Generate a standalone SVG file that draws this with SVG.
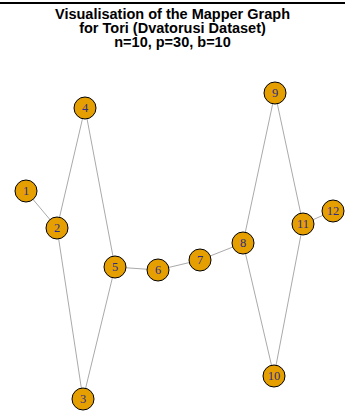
<svg xmlns="http://www.w3.org/2000/svg" width="345" height="413" viewBox="0 0 345 413">
<style>
.title{font-family:"Liberation Sans",Arial,sans-serif;font-weight:bold;font-size:14.5px;fill:#000;text-anchor:middle}
.edge{stroke:#aaaaaa;stroke-width:1;fill:none}
.node circle{fill:#E69F00;stroke:#000;stroke-width:1}
.node text{font-family:"Liberation Serif","Times New Roman",serif;font-size:12.5px;fill:#2B2B8A;text-anchor:middle;dominant-baseline:central}
</style>
<rect width="345" height="413" fill="#fff"/>
<line x1="0" y1="3" x2="345" y2="3" stroke="#000" stroke-width="2"/>
<text class="title" x="172.5" y="19">Visualisation of the Mapper Graph</text>
<text class="title" x="172.5" y="33">for Tori (Dvatorusi Dataset)</text>
<text class="title" x="172.5" y="47">n=10, p=30, b=10</text>
<g id="edges">
<line class="edge" x1="26" y1="191" x2="57" y2="228"/>
<line class="edge" x1="57" y1="228" x2="85" y2="108"/>
<line class="edge" x1="85" y1="108" x2="115" y2="267"/>
<line class="edge" x1="57" y1="228" x2="83" y2="399"/>
<line class="edge" x1="83" y1="399" x2="115" y2="267"/>
<line class="edge" x1="115" y1="267" x2="158" y2="270"/>
<line class="edge" x1="158" y1="270" x2="200" y2="260"/>
<line class="edge" x1="200" y1="260" x2="243" y2="243"/>
<line class="edge" x1="243" y1="243" x2="275" y2="93"/>
<line class="edge" x1="243" y1="243" x2="274" y2="376"/>
<line class="edge" x1="275" y1="93" x2="303" y2="224"/>
<line class="edge" x1="274" y1="376" x2="303" y2="224"/>
<line class="edge" x1="303" y1="224" x2="333" y2="211"/>
</g>
<g id="n1" class="node"><circle cx="26" cy="191" r="11"/><text x="26" y="191">1</text></g>
<g id="n2" class="node"><circle cx="57" cy="228" r="11"/><text x="57" y="228">2</text></g>
<g id="n3" class="node"><circle cx="83" cy="399" r="11"/><text x="83" y="399">3</text></g>
<g id="n4" class="node"><circle cx="85" cy="108" r="11"/><text x="85" y="108">4</text></g>
<g id="n5" class="node"><circle cx="115" cy="267" r="11"/><text x="115" y="267">5</text></g>
<g id="n6" class="node"><circle cx="158" cy="270" r="11"/><text x="158" y="270">6</text></g>
<g id="n7" class="node"><circle cx="200" cy="260" r="11"/><text x="200" y="260">7</text></g>
<g id="n8" class="node"><circle cx="243" cy="243" r="11"/><text x="243" y="243">8</text></g>
<g id="n9" class="node"><circle cx="275" cy="93" r="11"/><text x="275" y="93">9</text></g>
<g id="n10" class="node"><circle cx="274" cy="376" r="11"/><text x="274" y="376">10</text></g>
<g id="n11" class="node"><circle cx="303" cy="224" r="11"/><text x="303" y="224">11</text></g>
<g id="n12" class="node"><circle cx="333" cy="211" r="11"/><text x="333" y="211">12</text></g>
</svg>
